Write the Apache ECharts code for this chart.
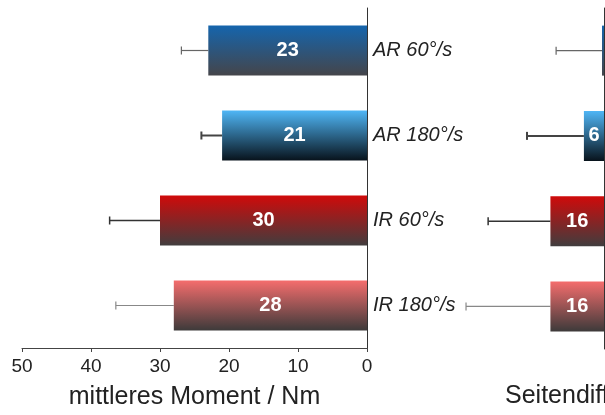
<!DOCTYPE html>
<html><head><meta charset="utf-8">
<script src="https://cdn.jsdelivr.net/npm/echarts@6/dist/echarts.min.js"></script>
<style>html,body{margin:0;padding:0;background:#fff}#c{width:605px;height:415px}</style>
</head><body><div id="c"></div>
<script>
var categories = ['AR 60°/s', 'AR 180°/s', 'IR 60°/s', 'IR 180°/s'];
var momentValues = [23, 21, 30, 28];
var momentSD = [3.9, 3.0, 7.3, 8.4];
var diffValues = [0.6, 6, 16, 16];
var diffSD = [13.7, 17, 18.6, 25.2];
var momentTicks = [0, 10, 20, 30, 40, 50];
var leftTitle = 'mittleres Moment / Nm';
var rightTitle = 'Seitendifferenz / %';

var FONT = '"Liberation Sans", Arial, sans-serif';
var gradients = [
  ['#1565ad', '#45454a'],
  ['#4fb6f6', '#08131c'],
  ['#d00a0a', '#413d3e'],
  ['#f56d6d', '#3d3a3a']
];
var errColors = ['#666', '#444', '#333', '#888'];
var errWidths = [1.2, 2, 1.5, 1.2];

function barData(vals) {
  return vals.map(function (v, i) {
    return {
      value: v,
      itemStyle: { color: new echarts.graphic.LinearGradient(0, 0, 0, 1, [
        { offset: 0, color: gradients[i][0] }, { offset: 1, color: gradients[i][1] }]) }
    };
  });
}
function errRender(params, api) {
  var v = api.value(0), sd = api.value(1), c = api.value(2);
  var p0 = api.coord([v, c]);
  var p1 = api.coord([v + sd, c]);
  var st = { stroke: errColors[c], lineWidth: errWidths[c] };
  return { type: 'group', children: [
    { type: 'line', shape: { x1: p0[0], y1: p0[1], x2: p1[0], y2: p1[1] }, style: st },
    { type: 'line', shape: { x1: p1[0], y1: p1[1] - 4, x2: p1[0], y2: p1[1] + 4 }, style: st }
  ] };
}
function errData(vals, sds) {
  return vals.map(function (v, i) { return [v, sds[i], i]; });
}

var chart = echarts.init(document.getElementById('c'), null, { renderer: 'canvas' });
chart.setOption({
  animation: false,
  backgroundColor: '#fff',
  textStyle: { fontFamily: FONT },
  grid: [
    { left: 22, width: 345, top: 8, height: 341 },
    { left: 460, width: 144, top: 8, height: 341 }
  ],
  xAxis: [
    { gridIndex: 0, type: 'value', inverse: true, min: momentTicks[0], max: momentTicks[momentTicks.length - 1], interval: 10,
      axisLine: { show: true, lineStyle: { color: '#444', width: 1 } },
      axisTick: { show: true, length: 4, lineStyle: { color: '#444' } },
      axisLabel: { fontSize: 19, color: '#222', margin: 9, fontFamily: FONT },
      splitLine: { show: false },
      name: leftTitle, nameLocation: 'middle', nameGap: 37,
      nameTextStyle: { fontSize: 25, color: '#222', fontFamily: FONT } },
    { gridIndex: 1, type: 'value', inverse: true, min: 0, max: 43,
      axisLine: { show: false }, axisTick: { show: false }, axisLabel: { show: false }, splitLine: { show: false } }
  ],
  yAxis: [
    { gridIndex: 0, type: 'category', data: categories, inverse: true, position: 'right',
      axisLine: { show: true, lineStyle: { color: '#333', width: 1 } },
      axisTick: { show: false },
      axisLabel: { fontSize: 20, fontStyle: 'italic', color: '#222', margin: 6, fontFamily: FONT } },
    { gridIndex: 1, type: 'category', data: categories, inverse: true, position: 'right',
      axisLine: { show: true, lineStyle: { color: '#333', width: 1 } },
      axisTick: { show: false }, axisLabel: { show: false } }
  ],
  graphic: [
    { type: 'text', left: 505, top: 384, style: { text: rightTitle, fill: '#222', font: '25px ' + FONT } }
  ],
  series: [
    { type: 'bar', xAxisIndex: 0, yAxisIndex: 0, data: barData(momentValues), barWidth: 50,
      label: { show: true, position: 'inside', color: '#fff', fontWeight: 'bold', fontSize: 20, fontFamily: FONT,
        formatter: function (p) { return Math.round(p.value); } } },
    { type: 'custom', xAxisIndex: 0, yAxisIndex: 0, renderItem: errRender, data: errData(momentValues, momentSD), z: 1 },
    { type: 'bar', xAxisIndex: 1, yAxisIndex: 1, data: barData(diffValues), barWidth: 50,
      label: { show: true, position: 'inside', color: '#fff', fontWeight: 'bold', fontSize: 20, fontFamily: FONT,
        formatter: function (p) { return p.value >= 2 ? Math.round(p.value) : ''; } } },
    { type: 'custom', xAxisIndex: 1, yAxisIndex: 1, renderItem: errRender, data: errData(diffValues, diffSD), z: 1 }
  ]
});
</script></body></html>
